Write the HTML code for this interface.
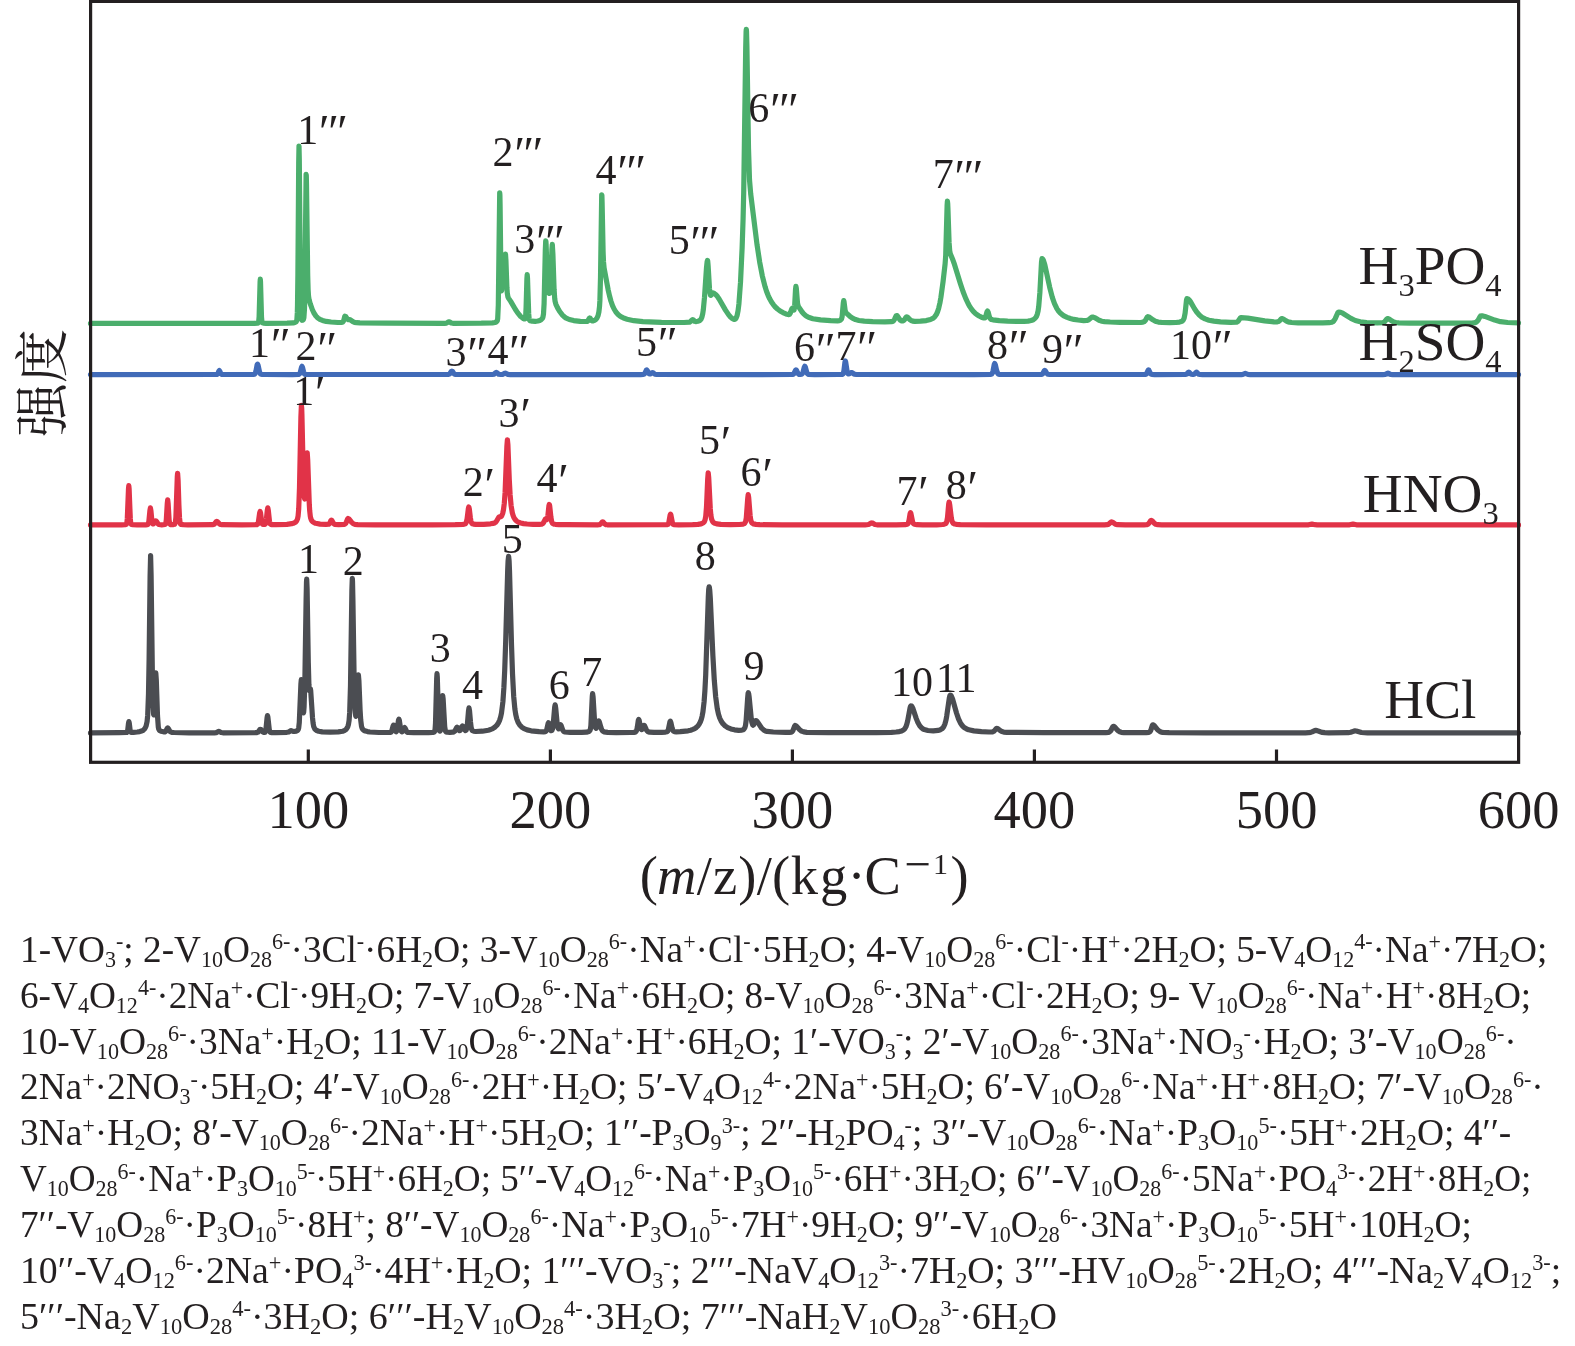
<!DOCTYPE html>
<html><head><meta charset="utf-8"><title>chart</title>
<style>
html,body{margin:0;padding:0;background:#fff;}
body{width:1575px;height:1346px;position:relative;overflow:hidden;}
svg{will-change:transform;}
</style></head><body>
<svg width="1575" height="1346" viewBox="0 0 1575 1346" style="position:absolute;left:0;top:0">
<g fill="none" stroke-width="5.2" stroke-linejoin="round" stroke-linecap="round">
<path d="M90.5 323.4L242.1 323.4L254.3 323.3L257.7 323.1L258.3 322.8L258.7 321.6L259.1 317.1L260.1 281.6L260.3 279.1L260.5 281.6L261.5 317.1L261.9 321.6L262.3 322.8L263.3 323.1L266.1 323.3L287.1 323.2L293.3 322.9L294.9 322.5L295.9 322.0L296.5 321.3L296.9 319.5L297.3 312.9L297.5 305.2L297.9 274.0L298.7 163.1L299.0 146.1L299.3 159.6L300.5 294.6L301.1 315.9L301.5 319.3L301.7 319.9L302.1 320.3L302.7 320.2L303.3 319.6L303.9 317.7L304.5 308.5L304.9 288.2L306.1 174.4L306.3 175.5L306.5 184.6L307.7 275.4L308.1 289.3L308.5 295.8L309.1 299.8L310.3 303.9L312.3 309.5L314.1 313.3L315.9 316.0L317.7 317.8L319.9 319.3L322.5 320.4L326.3 321.4L331.1 322.0L337.9 322.5L341.9 322.4L342.7 322.1L343.3 321.4L343.9 319.8L344.7 316.7L345.0 316.2L345.7 316.6L347.3 318.9L348.1 319.6L348.7 319.7L350.0 319.6L352.9 321.7L354.5 322.4L356.5 322.7L359.9 322.9L386.3 323.2L444.5 323.3L446.5 323.1L448.3 322.0L449.0 321.8L449.7 322.0L451.3 323.0L452.9 323.3L481.3 323.2L492.5 322.9L494.9 322.5L496.5 321.8L497.3 320.7L497.7 318.7L498.3 305.3L499.7 192.8L499.9 194.9L500.1 206.0L500.9 273.6L501.1 283.2L501.5 290.8L501.7 290.3L501.9 288.0L502.9 271.6L503.0 271.3L503.1 271.5L503.7 278.0L503.9 279.6L504.1 279.7L504.5 274.1L505.1 258.5L505.5 254.2L505.9 259.9L506.9 287.5L507.3 293.2L507.9 296.8L508.5 298.1L510.7 301.4L515.3 309.3L517.7 312.9L520.7 316.5L523.5 318.6L524.5 319.0L525.1 318.8L525.5 317.3L525.7 315.4L526.1 307.4L526.9 278.9L527.2 274.6L527.5 278.2L528.7 313.7L529.1 318.3L529.5 320.0L529.9 320.6L530.3 320.8L532.1 321.2L535.1 321.3L537.9 321.0L539.7 320.5L541.1 319.7L542.3 318.5L542.9 317.3L543.5 314.0L544.1 303.5L545.3 250.2L545.7 240.9L545.9 241.3L546.1 244.2L547.5 284.6L548.1 291.4L548.7 292.9L549.3 293.4L549.7 293.3L550.1 292.2L550.5 288.8L551.1 276.0L551.9 249.5L552.3 244.4L552.9 254.2L554.1 289.5L554.7 298.4L555.1 301.4L555.9 304.3L557.7 308.1L559.7 311.5L562.5 315.1L564.1 316.6L565.7 317.8L569.3 319.5L573.7 320.6L580.3 321.4L586.7 321.5L587.3 321.4L587.9 320.8L589.3 318.3L589.7 318.0L590.1 318.2L591.5 320.5L592.1 320.9L592.7 321.0L593.9 320.6L595.1 320.0L596.1 319.2L596.9 318.2L598.1 315.5L598.9 311.9L599.5 306.8L599.9 300.4L600.5 277.8L601.7 194.9L601.9 195.5L602.1 202.3L603.1 251.9L603.5 261.7L604.1 268.1L608.1 289.6L609.5 295.8L610.9 301.0L612.5 305.6L614.1 309.0L615.9 312.0L618.1 314.5L619.9 316.0L621.9 317.2L624.3 318.3L627.1 319.2L633.9 320.7L642.9 321.6L661.5 322.4L684.1 322.5L689.5 322.2L690.5 321.6L691.9 320.1L692.6 319.6L693.3 319.9L694.7 321.3L695.7 321.6L697.7 321.3L699.7 320.5L700.9 319.4L701.9 317.2L702.7 313.9L703.3 309.9L704.5 297.2L706.5 267.8L707.1 262.0L707.5 260.4L707.7 261.0L708.1 265.4L709.5 288.7L709.9 292.5L710.5 295.1L710.7 295.3L711.1 295.1L712.3 293.1L712.9 292.8L714.5 293.6L715.9 294.8L717.5 296.6L719.1 299.0L725.5 310.1L728.7 314.9L730.5 317.0L732.3 318.5L733.7 319.3L734.9 319.3L735.5 318.9L736.1 318.1L737.1 315.5L738.1 310.5L738.9 304.0L740.5 282.4L742.1 248.3L743.1 218.5L743.7 192.7L745.7 48.0L746.1 31.6L746.3 29.3L746.5 31.2L746.9 45.7L748.5 148.3L749.5 179.8L750.7 193.9L757.1 245.2L759.7 262.2L762.3 275.8L765.1 286.8L766.5 291.2L768.1 295.3L769.7 298.8L771.5 302.0L773.3 304.6L775.3 307.0L777.5 309.0L780.1 311.0L782.9 312.6L785.9 313.9L788.3 314.6L788.9 314.6L789.5 314.4L790.3 313.1L791.7 309.0L792.3 308.2L792.7 308.4L793.7 310.2L793.9 310.2L794.1 310.0L794.7 305.2L795.5 289.9L795.9 286.3L796.3 288.3L797.5 302.9L797.9 305.0L798.5 306.6L802.1 312.0L803.5 313.7L805.1 315.2L806.7 316.3L808.5 317.3L812.9 318.7L820.5 319.9L830.7 320.7L837.5 320.8L839.3 320.6L840.5 320.1L841.5 319.0L842.1 316.8L843.3 302.9L843.7 300.6L844.0 301.5L845.1 310.0L845.5 311.7L846.1 312.9L849.9 316.3L852.5 318.2L855.5 319.6L858.9 320.5L864.3 321.2L872.7 321.7L884.9 321.9L891.3 321.7L892.7 321.4L893.7 320.6L894.5 319.4L896.1 315.9L896.6 315.5L897.1 315.7L897.5 316.2L900.1 320.0L901.1 320.7L902.1 321.0L903.1 320.9L903.9 320.4L904.7 319.4L905.9 317.4L906.6 316.8L907.7 317.4L909.9 319.6L911.1 320.5L912.7 321.1L914.7 321.4L920.5 321.2L926.3 320.6L930.5 319.5L933.3 318.1L934.9 316.6L936.3 314.6L937.5 311.9L938.7 308.2L939.9 303.0L940.9 297.4L943.1 281.3L945.1 263.9L945.7 255.6L947.1 205.7L947.4 201.1L947.7 203.5L947.9 207.9L949.1 242.9L949.7 250.7L950.3 253.7L952.5 258.9L954.1 263.3L960.5 283.9L963.1 291.7L965.7 298.4L968.1 303.5L969.7 306.4L971.5 309.1L973.3 311.4L975.1 313.2L977.1 314.8L979.1 316.0L981.5 317.2L983.9 318.0L984.9 317.9L985.5 317.3L987.1 311.5L987.5 311.0L988.1 312.0L989.3 316.4L990.1 318.4L991.1 319.4L992.9 319.8L999.3 320.6L1007.7 321.1L1016.7 321.4L1023.9 321.4L1028.1 321.1L1031.1 320.5L1033.3 319.7L1035.1 318.3L1036.3 316.7L1037.3 314.2L1038.1 310.8L1038.7 306.7L1039.9 292.2L1041.5 262.1L1042.0 258.6L1042.7 259.0L1043.3 260.0L1044.7 264.2L1049.7 287.3L1052.3 297.3L1054.5 303.6L1056.9 308.6L1058.5 311.0L1060.3 313.1L1062.3 314.8L1064.5 316.2L1067.1 317.4L1070.3 318.5L1073.9 319.4L1078.1 320.0L1083.7 320.6L1086.9 320.5L1088.7 319.8L1091.7 317.3L1092.7 317.0L1094.5 317.6L1097.9 319.6L1099.9 320.6L1101.9 321.2L1104.5 321.6L1110.1 322.0L1120.1 322.3L1140.7 322.5L1142.9 322.2L1144.3 321.6L1145.5 320.2L1147.1 317.3L1147.8 316.7L1149.5 317.3L1152.9 319.8L1154.7 320.9L1156.3 321.6L1158.3 322.1L1162.3 322.5L1169.7 322.6L1175.9 322.5L1179.5 322.1L1181.3 321.6L1182.5 320.9L1183.5 319.6L1184.1 318.2L1185.1 313.2L1186.5 300.1L1186.9 298.6L1188.1 299.0L1189.3 300.1L1190.7 302.1L1194.5 308.7L1196.7 312.0L1199.3 315.0L1201.9 317.2L1205.1 318.9L1208.9 320.2L1213.9 321.1L1220.5 321.8L1230.7 322.3L1236.3 322.2L1237.3 321.9L1238.1 321.2L1240.3 318.0L1241.0 317.6L1247.7 318.1L1264.7 320.9L1273.9 321.9L1276.7 322.0L1278.3 321.6L1279.5 320.8L1281.1 318.9L1281.8 318.5L1283.1 318.9L1286.1 320.9L1287.7 321.7L1289.5 322.2L1291.7 322.5L1298.1 322.8L1310.5 322.9L1322.7 322.9L1329.1 322.7L1331.9 322.2L1332.9 321.7L1333.7 321.0L1335.1 318.9L1337.7 313.0L1338.3 312.3L1338.7 312.1L1340.7 312.4L1342.7 313.2L1350.9 318.4L1355.3 320.5L1360.3 321.8L1366.7 322.5L1377.1 322.8L1382.9 322.6L1383.9 322.3L1384.7 321.7L1386.9 318.9L1387.6 318.5L1388.9 318.9L1392.1 321.1L1393.9 322.0L1395.9 322.5L1398.9 322.8L1409.9 323.1L1435.1 323.2L1462.1 323.2L1472.1 323.0L1475.1 322.6L1476.7 321.8L1478.1 320.2L1480.1 316.5L1480.5 316.0L1481.0 315.8L1482.9 315.9L1484.9 316.4L1494.7 320.1L1500.5 321.7L1507.7 322.5L1518.5 322.9" stroke="#4bae6c"/>
<path d="M90.5 374.6L215.7 374.5L216.9 374.4L217.5 374.1L218.1 373.1L218.9 371.0L219.3 370.6L219.7 371.0L220.9 373.8L221.5 374.3L222.1 374.5L253.1 374.5L254.5 374.2L255.3 373.3L255.9 371.4L257.1 364.9L257.5 364.1L258.1 365.4L259.5 371.9L260.3 373.7L260.9 374.2L261.5 374.3L265.1 374.5L292.3 374.6L298.7 374.4L299.5 374.0L300.1 373.0L301.5 367.3L302.0 366.3L302.5 367.3L303.5 371.7L304.3 373.7L304.7 374.1L305.3 374.4L308.5 374.5L446.9 374.5L448.5 374.4L449.3 374.1L450.1 373.3L451.3 371.5L451.9 371.1L452.5 371.5L453.7 373.3L454.5 374.1L455.5 374.4L457.3 374.5L492.3 374.5L493.9 374.2L495.7 372.6L496.3 372.4L496.9 372.6L498.7 374.2L500.7 374.5L502.9 374.3L504.7 373.3L505.3 373.1L507.9 374.4L510.3 374.6L640.5 374.6L643.3 374.4L644.3 374.0L645.1 372.9L646.3 370.2L646.7 369.9L647.3 370.6L648.5 373.2L649.3 374.0L650.3 374.0L651.9 372.8L652.5 372.6L653.1 372.8L654.9 374.2L656.7 374.5L752.5 374.6L792.3 374.5L793.3 374.2L793.9 373.7L795.5 370.4L796.0 369.9L796.5 370.3L797.7 373.0L798.3 373.9L799.1 374.3L800.3 374.4L801.7 374.2L802.5 373.4L803.1 371.9L804.3 367.2L804.8 366.3L805.3 367.0L806.5 371.5L807.1 373.1L807.7 373.9L808.5 374.3L814.7 374.6L838.7 374.5L842.3 374.3L842.9 374.0L843.3 373.4L843.9 370.9L844.9 362.5L845.3 361.0L845.7 362.1L847.1 371.4L847.9 373.6L848.5 374.0L849.1 374.0L850.9 372.7L851.5 372.5L852.1 372.7L854.1 374.2L856.5 374.5L974.1 374.6L990.3 374.4L991.7 374.0L992.5 372.8L993.1 370.6L994.3 364.3L994.7 363.6L995.3 364.7L996.7 370.8L997.7 373.3L998.3 374.0L999.1 374.3L1002.7 374.5L1041.3 374.5L1042.1 374.3L1042.7 373.8L1044.3 370.8L1044.8 370.4L1045.3 370.7L1046.7 373.2L1047.3 373.9L1048.1 374.3L1049.5 374.5L1144.3 374.5L1145.7 374.4L1146.5 373.8L1148.1 370.3L1148.5 369.9L1148.9 370.2L1150.1 372.9L1150.9 374.0L1151.9 374.4L1154.7 374.6L1185.3 374.5L1186.7 374.1L1188.3 372.4L1188.8 372.2L1189.3 372.4L1190.5 373.8L1191.1 374.2L1193.1 374.5L1194.5 374.1L1195.9 372.5L1196.5 372.2L1196.9 372.4L1198.1 373.7L1198.9 374.3L1199.9 374.5L1202.5 374.6L1241.3 374.6L1242.9 374.4L1245.3 373.4L1247.9 374.4L1250.3 374.6L1382.7 374.6L1385.3 374.4L1388.0 373.1L1390.5 374.3L1392.9 374.6L1518.5 374.6" stroke="#416bb8"/>
<path d="M90.5 524.9L121.7 524.8L125.1 524.7L126.3 524.3L126.9 522.6L127.3 518.7L128.5 488.7L128.8 485.7L129.1 488.7L130.3 518.7L130.7 522.6L131.3 524.3L131.7 524.5L132.7 524.7L137.1 524.8L145.9 524.8L147.3 524.7L147.9 524.4L148.5 523.2L148.9 521.1L149.9 510.7L150.4 507.9L150.9 510.6L151.9 521.0L152.3 523.1L152.7 523.9L153.1 524.0L153.7 523.6L155.3 521.1L155.8 520.8L156.5 521.4L157.9 523.7L158.9 524.5L161.7 524.8L165.1 524.5L165.5 524.1L165.9 522.9L166.3 519.9L167.3 503.2L167.7 499.9L168.1 503.2L169.1 519.9L169.7 523.6L170.1 524.3L170.7 524.6L172.9 524.6L174.5 524.3L174.9 523.9L175.3 522.8L175.9 517.3L177.3 476.5L177.6 473.3L178.1 480.4L178.9 505.1L179.5 517.7L180.1 522.7L180.5 523.9L181.1 524.4L183.3 524.7L187.9 524.8L212.5 524.7L213.5 524.5L214.3 524.1L216.1 521.7L216.6 521.4L217.3 521.7L219.7 524.1L220.7 524.5L221.9 524.7L241.9 524.8L256.7 524.7L257.3 524.5L257.7 524.1L258.3 522.6L259.7 512.7L260.1 511.5L260.5 512.7L261.5 520.4L262.1 523.2L262.5 524.1L262.9 524.4L264.5 524.5L265.3 524.0L265.9 522.4L266.5 518.3L267.3 510.2L267.8 507.9L268.3 510.2L269.5 521.4L270.1 523.7L270.7 524.4L271.9 524.6L275.9 524.7L286.9 524.3L291.7 523.7L293.3 523.3L294.7 522.7L295.7 522.0L296.5 521.1L297.5 519.0L298.1 515.9L298.7 509.1L299.5 487.5L300.9 417.2L301.4 405.3L301.7 408.2L301.9 413.9L303.3 476.6L303.7 488.0L304.3 497.3L304.7 499.0L304.9 498.6L305.3 495.1L306.7 458.9L306.9 454.8L307.2 452.8L307.7 459.9L309.3 504.5L309.7 510.8L310.3 516.3L310.7 518.2L311.3 519.9L311.9 520.9L312.9 521.9L314.1 522.7L315.5 523.3L320.1 524.1L325.9 524.4L328.7 524.2L329.7 523.3L330.9 520.6L331.4 520.1L331.9 520.5L333.5 523.4L334.7 524.3L338.7 524.6L344.1 524.4L345.1 524.0L345.7 523.4L346.3 522.3L347.5 519.2L348.1 518.5L349.1 519.0L351.7 522.4L353.1 523.6L354.9 524.3L357.7 524.6L375.3 524.8L432.3 524.8L455.3 524.7L462.9 524.4L464.3 524.2L465.3 523.8L465.9 523.2L466.3 522.4L467.1 518.9L468.3 509.0L468.8 507.0L469.3 508.9L470.3 517.4L470.9 521.0L471.5 522.8L472.3 523.7L473.5 524.1L475.7 524.4L483.7 524.3L490.5 523.8L492.9 523.4L494.5 522.9L495.5 522.3L496.3 521.5L498.9 517.2L499.5 516.9L500.9 516.7L501.7 515.9L502.7 513.4L503.5 509.6L504.3 503.2L505.1 492.4L506.9 445.9L507.4 439.8L507.9 444.8L509.3 480.1L510.1 494.7L511.1 505.6L512.3 512.7L513.1 515.5L514.1 517.9L515.3 519.7L516.7 521.1L518.5 522.2L520.7 523.0L523.5 523.6L527.1 524.0L533.1 524.3L539.1 524.3L541.7 524.1L542.9 523.5L543.7 522.4L545.3 519.1L545.7 518.9L546.7 519.7L547.1 519.4L547.3 518.9L547.9 515.6L548.9 506.0L549.3 504.4L549.7 505.9L550.9 517.2L551.7 521.7L552.3 523.1L552.9 523.7L553.9 524.1L555.3 524.3L559.1 524.6L566.5 524.7L598.3 524.8L599.5 524.6L600.3 524.2L602.1 522.2L602.7 521.9L603.3 522.2L605.1 524.2L605.9 524.6L607.3 524.8L667.1 524.7L668.1 524.3L668.7 523.1L670.1 515.2L670.5 514.2L670.9 515.0L672.5 523.2L673.1 524.3L673.7 524.7L678.7 524.8L692.7 524.7L697.9 524.4L701.1 523.9L703.1 523.0L704.3 521.7L705.1 519.8L705.7 516.6L706.5 507.0L707.7 478.9L708.2 472.8L708.7 477.5L710.3 509.0L710.9 515.3L711.5 518.8L712.5 521.4L713.3 522.4L714.1 523.0L716.7 523.9L720.9 524.4L730.3 524.7L739.5 524.5L743.1 524.1L744.1 523.7L744.9 523.0L745.7 521.3L746.3 517.9L747.7 498.6L748.2 494.7L748.7 497.7L750.1 515.3L750.7 519.6L751.3 521.8L752.1 523.1L753.5 523.9L755.9 524.4L759.7 524.7L782.3 524.9L865.1 524.8L868.5 524.5L871.1 523.1L871.8 522.9L872.5 523.1L874.9 524.5L876.9 524.8L896.3 524.9L905.1 524.7L907.3 524.2L907.9 523.7L908.3 523.1L909.1 520.0L910.1 513.7L910.5 512.7L910.9 513.5L912.7 522.2L913.3 523.5L914.3 524.3L916.9 524.7L922.7 524.8L936.7 524.8L942.7 524.5L944.3 524.2L945.5 523.7L946.1 523.2L946.7 521.9L947.5 517.5L948.7 504.1L949.1 502.1L949.3 502.4L949.7 504.6L951.3 517.9L951.9 520.7L952.5 522.3L953.3 523.4L954.7 524.0L956.9 524.4L960.3 524.7L986.7 524.9L1104.5 524.8L1106.9 524.7L1108.1 524.4L1109.1 523.8L1110.9 522.2L1111.6 521.9L1112.5 522.2L1115.3 524.2L1117.5 524.7L1125.3 524.9L1144.1 524.8L1146.7 524.7L1147.9 524.3L1148.9 523.4L1150.5 520.9L1151.2 520.4L1152.1 520.8L1154.3 523.3L1155.7 524.2L1157.7 524.7L1161.9 524.8L1304.9 524.9L1308.5 524.8L1312.0 524.1L1315.1 524.7L1317.1 524.9L1345.3 524.9L1349.5 524.8L1353.0 524.1L1356.5 524.8L1360.1 524.9L1518.5 524.9" stroke="#e13348"/>
<path d="M90.5 732.9L119.1 732.7L126.7 732.5L127.3 731.8L127.7 730.2L128.5 723.4L128.9 721.6L129.3 723.4L130.1 730.1L130.5 731.7L131.1 732.3L133.5 732.3L137.3 732.0L139.7 731.6L141.7 731.0L143.1 730.3L144.3 729.2L145.3 727.8L146.1 726.0L147.1 721.5L147.7 715.2L148.5 693.8L149.1 659.6L150.1 575.7L150.6 555.6L151.1 575.6L152.5 684.0L152.9 700.6L153.5 713.1L153.7 714.6L153.9 714.8L154.3 710.8L155.3 680.7L155.5 675.7L155.8 672.9L156.3 680.1L157.5 715.8L158.3 727.0L158.7 729.0L159.5 730.4L161.1 731.3L163.5 731.8L164.9 731.8L165.7 731.4L167.3 728.3L167.7 727.9L168.3 728.5L169.7 731.1L170.5 731.9L171.7 732.3L174.1 732.5L189.1 732.8L214.5 732.8L216.3 732.6L218.8 731.3L221.1 732.5L222.9 732.8L255.3 732.7L256.9 732.6L257.9 732.2L258.7 731.3L259.9 729.6L260.4 729.3L260.9 729.5L262.7 731.9L263.5 732.4L264.5 732.4L264.9 732.3L265.3 731.9L265.9 729.6L267.1 717.5L267.5 715.6L267.9 717.2L269.3 729.8L269.9 731.8L270.5 732.4L271.7 732.6L275.7 732.6L286.9 732.3L288.7 732.0L291.1 730.6L293.1 731.4L294.1 731.5L296.1 731.1L297.7 730.3L298.3 729.4L298.7 727.9L299.3 722.4L300.9 684.1L301.3 679.7L301.7 682.7L303.1 711.1L303.3 712.5L303.5 712.8L303.7 711.9L304.1 706.5L304.9 678.8L306.1 600.4L306.5 581.9L306.7 579.2L307.1 588.7L308.3 662.7L308.9 684.5L309.3 690.0L309.5 690.7L309.7 690.4L310.3 688.6L310.7 690.6L312.5 717.7L313.1 723.3L313.7 726.5L314.7 728.8L316.1 730.2L318.7 731.2L322.3 731.9L330.1 732.2L338.3 731.9L342.7 731.2L344.3 730.6L345.5 729.8L346.5 728.8L347.3 727.6L347.9 726.3L348.5 724.2L349.1 720.4L349.7 712.2L350.5 685.6L351.9 590.0L352.3 578.4L352.5 581.0L352.9 599.3L354.1 677.8L354.5 694.9L355.1 709.9L355.7 715.8L355.9 716.3L356.1 716.0L356.5 713.1L357.1 702.4L357.9 681.1L358.4 674.9L358.9 680.7L360.1 710.0L360.7 719.9L361.5 726.3L362.1 728.3L362.9 729.5L364.1 730.5L365.5 731.1L367.5 731.6L369.9 732.0L378.9 732.5L390.3 732.5L391.1 732.1L391.7 731.2L393.1 726.0L393.6 725.1L394.1 725.9L395.3 730.6L395.7 731.4L396.1 731.7L396.7 731.0L397.1 729.6L398.5 720.1L398.9 719.1L399.3 720.1L400.7 729.5L401.1 731.0L401.7 731.8L402.1 731.8L402.7 731.3L404.1 728.1L404.6 727.6L405.1 728.2L406.7 731.7L407.3 732.2L408.1 732.5L413.7 732.6L428.5 732.6L432.7 732.4L434.3 731.9L434.7 731.2L435.1 729.1L435.5 723.3L436.7 678.1L437.0 673.6L437.3 677.3L438.7 723.7L439.1 728.8L439.7 731.1L440.1 731.2L440.5 730.4L441.1 725.6L442.3 699.7L442.7 695.7L443.1 698.5L444.7 726.7L445.3 730.5L445.7 731.5L446.1 731.9L447.3 732.2L449.9 732.3L452.7 732.2L453.9 731.9L454.9 731.0L456.5 727.8L457.1 727.2L457.7 727.7L459.1 730.3L459.5 730.6L459.9 730.6L460.5 730.0L461.9 726.6L462.5 725.9L463.1 726.5L464.7 730.0L465.5 730.6L466.1 730.2L466.7 728.8L467.3 725.2L468.5 711.0L469.0 707.9L469.5 710.6L470.5 722.1L471.1 727.0L471.7 729.5L472.5 730.7L473.7 731.2L475.7 731.5L482.3 731.2L488.3 730.2L490.7 729.5L492.7 728.6L495.1 727.0L496.9 725.2L498.5 722.8L499.7 720.1L500.7 716.8L501.5 713.0L502.9 701.7L503.9 687.4L504.7 670.5L505.7 641.2L507.7 569.7L508.1 560.7L508.6 556.3L509.1 560.9L509.5 570.6L511.5 644.6L512.5 673.7L513.7 696.4L514.9 709.2L515.7 714.3L516.7 718.6L518.1 722.3L519.7 724.9L521.7 727.1L524.1 728.7L527.1 729.9L531.1 730.8L539.1 731.7L543.7 731.8L545.5 731.6L546.1 731.2L546.7 729.9L548.1 723.5L548.5 722.8L548.9 723.4L550.5 730.0L551.1 730.7L551.5 730.7L551.9 730.3L552.5 729.0L553.1 725.8L554.7 706.9L555.1 704.9L555.3 705.3L555.7 708.1L557.3 724.9L557.7 727.1L558.3 728.7L558.5 728.8L558.9 728.5L560.1 725.3L560.6 724.7L561.1 725.4L562.9 730.5L563.7 731.5L564.7 732.0L570.3 732.4L581.7 732.4L586.5 732.2L588.9 731.5L589.7 730.8L590.1 730.1L590.5 728.5L590.9 725.3L592.3 696.2L592.6 693.5L593.1 697.2L594.5 720.1L594.9 724.2L595.5 727.5L595.9 728.2L596.1 728.3L596.5 727.9L597.1 726.2L598.1 722.0L598.5 721.0L598.7 720.9L599.1 721.3L599.5 722.4L600.9 727.4L601.7 729.6L602.7 731.1L603.9 731.8L607.7 732.3L616.3 732.6L630.7 732.5L633.7 732.4L635.3 732.1L636.1 731.5L636.7 730.2L637.3 727.3L638.3 720.5L638.7 719.5L639.1 720.1L640.5 727.2L641.3 729.5L641.7 729.7L642.1 729.3L643.5 725.8L643.9 725.3L644.1 725.3L644.7 726.0L646.3 729.6L647.1 730.9L648.1 731.8L649.5 732.2L653.9 732.4L661.7 732.3L665.5 732.1L667.1 731.7L667.7 731.1L668.3 729.8L669.9 722.0L670.3 721.2L670.9 722.5L672.1 728.0L672.7 729.9L673.3 731.0L674.3 731.6L676.3 731.8L680.3 731.7L688.1 730.8L690.7 730.2L692.9 729.4L694.7 728.6L696.3 727.5L697.9 725.9L699.1 724.3L700.3 722.1L701.3 719.4L702.1 716.3L702.9 712.1L704.1 701.7L704.9 690.7L705.7 675.1L708.3 597.2L708.7 589.5L709.1 586.8L709.3 587.1L709.7 589.8L710.3 598.2L712.9 655.8L714.3 680.3L715.7 697.0L717.3 708.8L718.5 714.3L719.7 718.0L721.1 721.0L722.9 723.7L725.1 725.9L727.7 727.6L730.9 728.9L734.5 729.8L738.7 730.3L741.9 730.1L743.1 729.7L743.9 729.2L744.9 727.6L745.5 725.3L746.1 720.9L747.7 697.4L748.1 693.3L748.3 692.7L748.7 693.8L749.1 696.6L751.3 719.0L751.9 722.5L752.7 724.8L753.1 725.2L753.7 724.8L755.3 721.2L755.7 720.6L756.0 720.6L756.7 721.0L757.5 721.9L761.7 728.2L763.9 730.2L765.3 730.9L767.1 731.4L773.3 732.0L785.7 732.3L789.5 732.3L791.3 732.1L792.1 731.7L792.9 730.7L794.5 726.3L795.1 725.5L795.7 725.7L796.5 726.2L799.7 729.7L801.5 731.1L803.7 731.9L806.9 732.3L828.5 732.7L876.3 732.6L891.5 732.3L896.1 732.0L899.3 731.6L901.7 730.9L903.5 730.0L904.9 728.6L905.9 726.8L906.9 723.9L907.7 720.7L910.1 707.8L910.5 706.5L911.0 705.8L911.5 706.0L911.9 706.4L912.7 707.9L916.3 718.6L917.9 722.6L919.7 725.8L921.5 727.8L922.9 728.9L924.3 729.6L927.9 730.5L933.3 730.9L938.1 730.4L940.5 729.7L942.3 728.5L943.7 726.8L944.9 724.0L945.9 720.4L946.7 716.2L949.3 698.2L949.9 695.7L950.3 695.2L950.7 695.3L951.3 696.0L952.5 698.8L956.5 713.0L958.5 718.8L960.3 722.7L962.3 725.7L963.7 727.1L965.1 728.1L966.7 729.0L968.7 729.8L973.9 730.9L981.5 731.6L988.9 732.0L992.5 731.8L994.1 731.1L996.1 728.8L996.9 728.3L997.9 728.7L1000.5 730.8L1001.9 731.6L1003.7 732.1L1006.9 732.3L1044.3 732.7L1105.7 732.7L1108.5 732.4L1109.9 731.7L1110.9 730.5L1112.7 726.9L1113.4 726.3L1114.1 726.5L1114.7 727.0L1117.3 730.0L1118.5 731.1L1119.7 731.8L1121.3 732.3L1123.9 732.6L1128.9 732.7L1146.1 732.7L1148.9 732.4L1150.1 731.6L1150.9 730.0L1152.3 725.5L1152.8 724.8L1153.5 725.0L1154.1 725.5L1157.7 729.9L1159.9 731.5L1161.3 732.1L1162.9 732.4L1169.1 732.7L1205.7 732.9L1305.5 732.8L1308.7 732.7L1310.7 732.4L1312.1 731.9L1314.7 730.6L1315.7 730.4L1317.1 730.6L1320.3 731.8L1322.3 732.4L1324.7 732.7L1328.7 732.8L1348.3 732.7L1350.7 732.3L1353.9 731.1L1355.0 730.9L1356.3 731.0L1361.5 732.5L1367.5 732.8L1518.5 732.9" stroke="#4b4d52"/>
</g>
<g stroke="#231f20" stroke-width="3.2" fill="none">
<rect x="90.6" y="1.4" width="1428" height="760.9" />
<line x1="308.3" y1="761.5" x2="308.3" y2="749.5"/><line x1="550.4" y1="761.5" x2="550.4" y2="749.5"/><line x1="792.4" y1="761.5" x2="792.4" y2="749.5"/><line x1="1034.4" y1="761.5" x2="1034.4" y2="749.5"/><line x1="1276.5" y1="761.5" x2="1276.5" y2="749.5"/>
</g>
<g fill="#231f20" font-family="'Liberation Serif', serif">
<text x="297.2" y="143.8" font-size="42">1</text><text x="319.1" y="148.1" font-size="48" letter-spacing="-1.41">′′′</text>
<text x="492.6" y="166.0" font-size="42">2</text><text x="514.5" y="170.3" font-size="48" letter-spacing="-1.41">′′′</text>
<text x="514.3" y="253.4" font-size="42">3</text><text x="536.2" y="257.7" font-size="48" letter-spacing="-1.41">′′′</text>
<text x="595.5" y="183.8" font-size="42">4</text><text x="617.4" y="188.1" font-size="48" letter-spacing="-1.41">′′′</text>
<text x="668.7" y="254.2" font-size="42">5</text><text x="690.6" y="258.5" font-size="48" letter-spacing="-1.41">′′′</text>
<text x="748.3" y="121.5" font-size="42">6</text><text x="770.2" y="125.8" font-size="48" letter-spacing="-1.41">′′′</text>
<text x="932.7" y="188.3" font-size="42">7</text><text x="954.6" y="192.6" font-size="48" letter-spacing="-1.41">′′′</text>
<text x="249.0" y="356.8" font-size="42">1</text><text x="270.9" y="361.1" font-size="48" letter-spacing="-1.41">′′</text>
<text x="295.6" y="360.4" font-size="42">2</text><text x="317.5" y="364.7" font-size="48" letter-spacing="-1.41">′′</text>
<text x="445.5" y="365.6" font-size="42">3</text><text x="467.4" y="369.9" font-size="48" letter-spacing="-1.41">′′</text>
<text x="487.4" y="363.5" font-size="42">4</text><text x="509.3" y="367.8" font-size="48" letter-spacing="-1.41">′′</text>
<text x="636.0" y="356.0" font-size="42">5</text><text x="657.9" y="360.3" font-size="48" letter-spacing="-1.41">′′</text>
<text x="794.1" y="361.3" font-size="42">6</text><text x="816.0" y="365.6" font-size="48" letter-spacing="-1.41">′′</text>
<text x="835.4" y="360.0" font-size="42">7</text><text x="857.3" y="364.3" font-size="48" letter-spacing="-1.41">′′</text>
<text x="987.0" y="358.7" font-size="42">8</text><text x="1008.9" y="363.0" font-size="48" letter-spacing="-1.41">′′</text>
<text x="1041.9" y="362.5" font-size="42">9</text><text x="1063.8" y="366.8" font-size="48" letter-spacing="-1.41">′′</text>
<text x="1170.0" y="358.7" font-size="42">10</text><text x="1212.9" y="363.0" font-size="48" letter-spacing="-1.41">′′</text>
<text x="293.2" y="404.5" font-size="42">1</text><text x="315.1" y="408.8" font-size="48" letter-spacing="-1.41">′</text>
<text x="462.7" y="496.4" font-size="42">2</text><text x="484.6" y="500.7" font-size="48" letter-spacing="-1.41">′</text>
<text x="498.6" y="426.6" font-size="42">3</text><text x="520.5" y="430.9" font-size="48" letter-spacing="-1.41">′</text>
<text x="536.4" y="492.4" font-size="42">4</text><text x="558.3" y="496.7" font-size="48" letter-spacing="-1.41">′</text>
<text x="698.9" y="454.2" font-size="42">5</text><text x="720.8" y="458.5" font-size="48" letter-spacing="-1.41">′</text>
<text x="740.5" y="486.2" font-size="42">6</text><text x="762.4" y="490.5" font-size="48" letter-spacing="-1.41">′</text>
<text x="896.4" y="504.6" font-size="42">7</text><text x="918.3" y="508.9" font-size="48" letter-spacing="-1.41">′</text>
<text x="945.7" y="499.3" font-size="42">8</text><text x="967.6" y="503.6" font-size="48" letter-spacing="-1.41">′</text>
<text x="297.9" y="572.8" font-size="42">1</text>
<text x="342.8" y="575.0" font-size="42">2</text>
<text x="429.7" y="661.9" font-size="42">3</text>
<text x="462.0" y="699.2" font-size="42">4</text>
<text x="501.8" y="552.6" font-size="42">5</text>
<text x="548.8" y="699.2" font-size="42">6</text>
<text x="581.2" y="685.5" font-size="42">7</text>
<text x="694.7" y="569.7" font-size="42">8</text>
<text x="743.4" y="680.2" font-size="42">9</text>
<text x="891.0" y="695.6" font-size="42">10</text>
<text x="936.0" y="691.8" font-size="42">11</text>
<text x="308.3" y="828.3" font-size="54.5" text-anchor="middle">100</text><text x="550.4" y="828.3" font-size="54.5" text-anchor="middle">200</text><text x="792.4" y="828.3" font-size="54.5" text-anchor="middle">300</text><text x="1034.4" y="828.3" font-size="54.5" text-anchor="middle">400</text><text x="1276.5" y="828.3" font-size="54.5" text-anchor="middle">500</text><text x="1518.5" y="828.3" font-size="54.5" text-anchor="middle">600</text>
<text x="1358.6" y="284.1" font-size="55.2">H</text><text x="1398.5" y="296.1" font-size="32.5">3</text><text x="1414.7" y="284.1" font-size="55.2">PO</text><text x="1485.3" y="296.1" font-size="32.5">4</text><text x="1358.6" y="360.1" font-size="55.2">H</text><text x="1398.5" y="372.1" font-size="32.5">2</text><text x="1414.7" y="360.1" font-size="55.2">SO</text><text x="1485.3" y="372.1" font-size="32.5">4</text><text x="1362.8" y="512.0" font-size="55.2">HNO</text><text x="1482.4" y="524.0" font-size="32.5">3</text><text x="1384.3" y="717.9" font-size="55.2">HCl</text>
<text x="639.8" y="893.5" font-size="54.5">(</text><text x="656.9" y="893.5" font-size="54.5" font-style="italic">m</text><text x="696.7" y="893.5" font-size="54.5">/</text><text x="712.9" y="893.5" font-size="54.5">z</text><text x="738.2" y="893.5" font-size="54.5">)</text><text x="756.7" y="893.5" font-size="54.5">/</text><text x="772.0" y="893.5" font-size="54.5">(</text><text x="790.8" y="893.5" font-size="54.5">k</text><text x="819.9" y="893.5" font-size="54.5">g</text><text x="847.4" y="893.5" font-size="54.5">·</text><text x="864.5" y="893.5" font-size="54.5">C</text><text x="904.4" y="880.0" font-size="47">−</text><text x="933.0" y="874.4" font-size="30">1</text><text x="950.4" y="893.5" font-size="54.5">)</text>
<text x="0" y="0" font-size="54" font-family="'Noto Serif CJK SC', serif" text-anchor="middle" transform="translate(62.3 383) rotate(-90)">强度</text>
<text x="20.0" y="961.8" font-size="38" transform="matrix(0.98158 0 0 1 0.368 0)"><tspan y="961.8">1-VO</tspan><tspan y="966.8" font-size="22.5">3</tspan><tspan y="949.2" font-size="22.5">-</tspan><tspan y="961.8">; 2-V</tspan><tspan y="966.8" font-size="22.5">10</tspan><tspan y="961.8">O</tspan><tspan y="966.8" font-size="22.5">28</tspan><tspan y="949.2" font-size="22.5">6-</tspan><tspan y="961.8">·3Cl</tspan><tspan y="949.2" font-size="22.5">-</tspan><tspan y="961.8">·6H</tspan><tspan y="966.8" font-size="22.5">2</tspan><tspan y="961.8">O; 3-V</tspan><tspan y="966.8" font-size="22.5">10</tspan><tspan y="961.8">O</tspan><tspan y="966.8" font-size="22.5">28</tspan><tspan y="949.2" font-size="22.5">6-</tspan><tspan y="961.8">·Na</tspan><tspan y="949.2" font-size="22.5">+</tspan><tspan y="961.8">·Cl</tspan><tspan y="949.2" font-size="22.5">-</tspan><tspan y="961.8">·5H</tspan><tspan y="966.8" font-size="22.5">2</tspan><tspan y="961.8">O; 4-V</tspan><tspan y="966.8" font-size="22.5">10</tspan><tspan y="961.8">O</tspan><tspan y="966.8" font-size="22.5">28</tspan><tspan y="949.2" font-size="22.5">6-</tspan><tspan y="961.8">·Cl</tspan><tspan y="949.2" font-size="22.5">-</tspan><tspan y="961.8">·H</tspan><tspan y="949.2" font-size="22.5">+</tspan><tspan y="961.8">·2H</tspan><tspan y="966.8" font-size="22.5">2</tspan><tspan y="961.8">O; 5-V</tspan><tspan y="966.8" font-size="22.5">4</tspan><tspan y="961.8">O</tspan><tspan y="966.8" font-size="22.5">12</tspan><tspan y="949.2" font-size="22.5">4-</tspan><tspan y="961.8">·Na</tspan><tspan y="949.2" font-size="22.5">+</tspan><tspan y="961.8">·7H</tspan><tspan y="966.8" font-size="22.5">2</tspan><tspan y="961.8">O;</tspan></text>
<text x="20.0" y="1007.7" font-size="38" transform="matrix(0.98027 0 0 1 0.395 0)"><tspan y="1007.7">6-V</tspan><tspan y="1012.7" font-size="22.5">4</tspan><tspan y="1007.7">O</tspan><tspan y="1012.7" font-size="22.5">12</tspan><tspan y="995.1" font-size="22.5">4-</tspan><tspan y="1007.7">·2Na</tspan><tspan y="995.1" font-size="22.5">+</tspan><tspan y="1007.7">·Cl</tspan><tspan y="995.1" font-size="22.5">-</tspan><tspan y="1007.7">·9H</tspan><tspan y="1012.7" font-size="22.5">2</tspan><tspan y="1007.7">O; 7-V</tspan><tspan y="1012.7" font-size="22.5">10</tspan><tspan y="1007.7">O</tspan><tspan y="1012.7" font-size="22.5">28</tspan><tspan y="995.1" font-size="22.5">6-</tspan><tspan y="1007.7">·Na</tspan><tspan y="995.1" font-size="22.5">+</tspan><tspan y="1007.7">·6H</tspan><tspan y="1012.7" font-size="22.5">2</tspan><tspan y="1007.7">O; 8-V</tspan><tspan y="1012.7" font-size="22.5">10</tspan><tspan y="1007.7">O</tspan><tspan y="1012.7" font-size="22.5">28</tspan><tspan y="995.1" font-size="22.5">6-</tspan><tspan y="1007.7">·3Na</tspan><tspan y="995.1" font-size="22.5">+</tspan><tspan y="1007.7">·Cl</tspan><tspan y="995.1" font-size="22.5">-</tspan><tspan y="1007.7">·2H</tspan><tspan y="1012.7" font-size="22.5">2</tspan><tspan y="1007.7">O; 9- V</tspan><tspan y="1012.7" font-size="22.5">10</tspan><tspan y="1007.7">O</tspan><tspan y="1012.7" font-size="22.5">28</tspan><tspan y="995.1" font-size="22.5">6-</tspan><tspan y="1007.7">·Na</tspan><tspan y="995.1" font-size="22.5">+</tspan><tspan y="1007.7">·H</tspan><tspan y="995.1" font-size="22.5">+</tspan><tspan y="1007.7">·8H</tspan><tspan y="1012.7" font-size="22.5">2</tspan><tspan y="1007.7">O;</tspan></text>
<text x="20.0" y="1053.6" font-size="38" transform="matrix(0.98411 0 0 1 0.318 0)"><tspan y="1053.6">10-V</tspan><tspan y="1058.6" font-size="22.5">10</tspan><tspan y="1053.6">O</tspan><tspan y="1058.6" font-size="22.5">28</tspan><tspan y="1041.0" font-size="22.5">6-</tspan><tspan y="1053.6">·3Na</tspan><tspan y="1041.0" font-size="22.5">+</tspan><tspan y="1053.6">·H</tspan><tspan y="1058.6" font-size="22.5">2</tspan><tspan y="1053.6">O; 11-V</tspan><tspan y="1058.6" font-size="22.5">10</tspan><tspan y="1053.6">O</tspan><tspan y="1058.6" font-size="22.5">28</tspan><tspan y="1041.0" font-size="22.5">6-</tspan><tspan y="1053.6">·2Na</tspan><tspan y="1041.0" font-size="22.5">+</tspan><tspan y="1053.6">·H</tspan><tspan y="1041.0" font-size="22.5">+</tspan><tspan y="1053.6">·6H</tspan><tspan y="1058.6" font-size="22.5">2</tspan><tspan y="1053.6">O; 1′-VO</tspan><tspan y="1058.6" font-size="22.5">3</tspan><tspan y="1041.0" font-size="22.5">-</tspan><tspan y="1053.6">; 2′-V</tspan><tspan y="1058.6" font-size="22.5">10</tspan><tspan y="1053.6">O</tspan><tspan y="1058.6" font-size="22.5">28</tspan><tspan y="1041.0" font-size="22.5">6-</tspan><tspan y="1053.6">·3Na</tspan><tspan y="1041.0" font-size="22.5">+</tspan><tspan y="1053.6">·NO</tspan><tspan y="1058.6" font-size="22.5">3</tspan><tspan y="1041.0" font-size="22.5">-</tspan><tspan y="1053.6">·H</tspan><tspan y="1058.6" font-size="22.5">2</tspan><tspan y="1053.6">O; 3′-V</tspan><tspan y="1058.6" font-size="22.5">10</tspan><tspan y="1053.6">O</tspan><tspan y="1058.6" font-size="22.5">28</tspan><tspan y="1041.0" font-size="22.5">6-</tspan><tspan y="1053.6">·</tspan></text>
<text x="20.0" y="1099.5" font-size="38" transform="matrix(0.98201 0 0 1 0.360 0)"><tspan y="1099.5">2Na</tspan><tspan y="1086.9" font-size="22.5">+</tspan><tspan y="1099.5">·2NO</tspan><tspan y="1104.5" font-size="22.5">3</tspan><tspan y="1086.9" font-size="22.5">-</tspan><tspan y="1099.5">·5H</tspan><tspan y="1104.5" font-size="22.5">2</tspan><tspan y="1099.5">O; 4′-V</tspan><tspan y="1104.5" font-size="22.5">10</tspan><tspan y="1099.5">O</tspan><tspan y="1104.5" font-size="22.5">28</tspan><tspan y="1086.9" font-size="22.5">6-</tspan><tspan y="1099.5">·2H</tspan><tspan y="1086.9" font-size="22.5">+</tspan><tspan y="1099.5">·H</tspan><tspan y="1104.5" font-size="22.5">2</tspan><tspan y="1099.5">O; 5′-V</tspan><tspan y="1104.5" font-size="22.5">4</tspan><tspan y="1099.5">O</tspan><tspan y="1104.5" font-size="22.5">12</tspan><tspan y="1086.9" font-size="22.5">4-</tspan><tspan y="1099.5">·2Na</tspan><tspan y="1086.9" font-size="22.5">+</tspan><tspan y="1099.5">·5H</tspan><tspan y="1104.5" font-size="22.5">2</tspan><tspan y="1099.5">O; 6′-V</tspan><tspan y="1104.5" font-size="22.5">10</tspan><tspan y="1099.5">O</tspan><tspan y="1104.5" font-size="22.5">28</tspan><tspan y="1086.9" font-size="22.5">6-</tspan><tspan y="1099.5">·Na</tspan><tspan y="1086.9" font-size="22.5">+</tspan><tspan y="1099.5">·H</tspan><tspan y="1086.9" font-size="22.5">+</tspan><tspan y="1099.5">·8H</tspan><tspan y="1104.5" font-size="22.5">2</tspan><tspan y="1099.5">O; 7′-V</tspan><tspan y="1104.5" font-size="22.5">10</tspan><tspan y="1099.5">O</tspan><tspan y="1104.5" font-size="22.5">28</tspan><tspan y="1086.9" font-size="22.5">6-</tspan><tspan y="1099.5">·</tspan></text>
<text x="20.0" y="1145.4" font-size="38" transform="matrix(0.98536 0 0 1 0.293 0)"><tspan y="1145.4">3Na</tspan><tspan y="1132.8" font-size="22.5">+</tspan><tspan y="1145.4">·H</tspan><tspan y="1150.4" font-size="22.5">2</tspan><tspan y="1145.4">O; 8′-V</tspan><tspan y="1150.4" font-size="22.5">10</tspan><tspan y="1145.4">O</tspan><tspan y="1150.4" font-size="22.5">28</tspan><tspan y="1132.8" font-size="22.5">6-</tspan><tspan y="1145.4">·2Na</tspan><tspan y="1132.8" font-size="22.5">+</tspan><tspan y="1145.4">·H</tspan><tspan y="1132.8" font-size="22.5">+</tspan><tspan y="1145.4">·5H</tspan><tspan y="1150.4" font-size="22.5">2</tspan><tspan y="1145.4">O; 1′′-P</tspan><tspan y="1150.4" font-size="22.5">3</tspan><tspan y="1145.4">O</tspan><tspan y="1150.4" font-size="22.5">9</tspan><tspan y="1132.8" font-size="22.5">3-</tspan><tspan y="1145.4">; 2′′-H</tspan><tspan y="1150.4" font-size="22.5">2</tspan><tspan y="1145.4">PO</tspan><tspan y="1150.4" font-size="22.5">4</tspan><tspan y="1132.8" font-size="22.5">-</tspan><tspan y="1145.4">; 3′′-V</tspan><tspan y="1150.4" font-size="22.5">10</tspan><tspan y="1145.4">O</tspan><tspan y="1150.4" font-size="22.5">28</tspan><tspan y="1132.8" font-size="22.5">6-</tspan><tspan y="1145.4">·Na</tspan><tspan y="1132.8" font-size="22.5">+</tspan><tspan y="1145.4">·P</tspan><tspan y="1150.4" font-size="22.5">3</tspan><tspan y="1145.4">O</tspan><tspan y="1150.4" font-size="22.5">10</tspan><tspan y="1132.8" font-size="22.5">5-</tspan><tspan y="1145.4">·5H</tspan><tspan y="1132.8" font-size="22.5">+</tspan><tspan y="1145.4">·2H</tspan><tspan y="1150.4" font-size="22.5">2</tspan><tspan y="1145.4">O; 4′′-</tspan></text>
<text x="20.0" y="1191.2" font-size="38" transform="matrix(0.97699 0 0 1 0.460 0)"><tspan y="1191.2">V</tspan><tspan y="1196.2" font-size="22.5">10</tspan><tspan y="1191.2">O</tspan><tspan y="1196.2" font-size="22.5">28</tspan><tspan y="1178.7" font-size="22.5">6-</tspan><tspan y="1191.2">·Na</tspan><tspan y="1178.7" font-size="22.5">+</tspan><tspan y="1191.2">·P</tspan><tspan y="1196.2" font-size="22.5">3</tspan><tspan y="1191.2">O</tspan><tspan y="1196.2" font-size="22.5">10</tspan><tspan y="1178.7" font-size="22.5">5-</tspan><tspan y="1191.2">·5H</tspan><tspan y="1178.7" font-size="22.5">+</tspan><tspan y="1191.2">·6H</tspan><tspan y="1196.2" font-size="22.5">2</tspan><tspan y="1191.2">O; 5′′-V</tspan><tspan y="1196.2" font-size="22.5">4</tspan><tspan y="1191.2">O</tspan><tspan y="1196.2" font-size="22.5">12</tspan><tspan y="1178.7" font-size="22.5">6-</tspan><tspan y="1191.2">·Na</tspan><tspan y="1178.7" font-size="22.5">+</tspan><tspan y="1191.2">·P</tspan><tspan y="1196.2" font-size="22.5">3</tspan><tspan y="1191.2">O</tspan><tspan y="1196.2" font-size="22.5">10</tspan><tspan y="1178.7" font-size="22.5">5-</tspan><tspan y="1191.2">·6H</tspan><tspan y="1178.7" font-size="22.5">+</tspan><tspan y="1191.2">·3H</tspan><tspan y="1196.2" font-size="22.5">2</tspan><tspan y="1191.2">O; 6′′-V</tspan><tspan y="1196.2" font-size="22.5">10</tspan><tspan y="1191.2">O</tspan><tspan y="1196.2" font-size="22.5">28</tspan><tspan y="1178.7" font-size="22.5">6-</tspan><tspan y="1191.2">·5Na</tspan><tspan y="1178.7" font-size="22.5">+</tspan><tspan y="1191.2">·PO</tspan><tspan y="1196.2" font-size="22.5">4</tspan><tspan y="1178.7" font-size="22.5">3-</tspan><tspan y="1191.2">·2H</tspan><tspan y="1178.7" font-size="22.5">+</tspan><tspan y="1191.2">·8H</tspan><tspan y="1196.2" font-size="22.5">2</tspan><tspan y="1191.2">O;</tspan></text>
<text x="20.0" y="1237.1" font-size="38" transform="matrix(0.98056 0 0 1 0.389 0)"><tspan y="1237.1">7′′-V</tspan><tspan y="1242.1" font-size="22.5">10</tspan><tspan y="1237.1">O</tspan><tspan y="1242.1" font-size="22.5">28</tspan><tspan y="1224.5" font-size="22.5">6-</tspan><tspan y="1237.1">·P</tspan><tspan y="1242.1" font-size="22.5">3</tspan><tspan y="1237.1">O</tspan><tspan y="1242.1" font-size="22.5">10</tspan><tspan y="1224.5" font-size="22.5">5-</tspan><tspan y="1237.1">·8H</tspan><tspan y="1224.5" font-size="22.5">+</tspan><tspan y="1237.1">; 8′′-V</tspan><tspan y="1242.1" font-size="22.5">10</tspan><tspan y="1237.1">O</tspan><tspan y="1242.1" font-size="22.5">28</tspan><tspan y="1224.5" font-size="22.5">6-</tspan><tspan y="1237.1">·Na</tspan><tspan y="1224.5" font-size="22.5">+</tspan><tspan y="1237.1">·P</tspan><tspan y="1242.1" font-size="22.5">3</tspan><tspan y="1237.1">O</tspan><tspan y="1242.1" font-size="22.5">10</tspan><tspan y="1224.5" font-size="22.5">5-</tspan><tspan y="1237.1">·7H</tspan><tspan y="1224.5" font-size="22.5">+</tspan><tspan y="1237.1">·9H</tspan><tspan y="1242.1" font-size="22.5">2</tspan><tspan y="1237.1">O; 9′′-V</tspan><tspan y="1242.1" font-size="22.5">10</tspan><tspan y="1237.1">O</tspan><tspan y="1242.1" font-size="22.5">28</tspan><tspan y="1224.5" font-size="22.5">6-</tspan><tspan y="1237.1">·3Na</tspan><tspan y="1224.5" font-size="22.5">+</tspan><tspan y="1237.1">·P</tspan><tspan y="1242.1" font-size="22.5">3</tspan><tspan y="1237.1">O</tspan><tspan y="1242.1" font-size="22.5">10</tspan><tspan y="1224.5" font-size="22.5">5-</tspan><tspan y="1237.1">·5H</tspan><tspan y="1224.5" font-size="22.5">+</tspan><tspan y="1237.1">·10H</tspan><tspan y="1242.1" font-size="22.5">2</tspan><tspan y="1237.1">O;</tspan></text>
<text x="20.0" y="1283.0" font-size="38" transform="matrix(0.99337 0 0 1 0.133 0)"><tspan y="1283.0">10′′-V</tspan><tspan y="1288.0" font-size="22.5">4</tspan><tspan y="1283.0">O</tspan><tspan y="1288.0" font-size="22.5">12</tspan><tspan y="1270.4" font-size="22.5">6-</tspan><tspan y="1283.0">·2Na</tspan><tspan y="1270.4" font-size="22.5">+</tspan><tspan y="1283.0">·PO</tspan><tspan y="1288.0" font-size="22.5">4</tspan><tspan y="1270.4" font-size="22.5">3-</tspan><tspan y="1283.0">·4H</tspan><tspan y="1270.4" font-size="22.5">+</tspan><tspan y="1283.0">·H</tspan><tspan y="1288.0" font-size="22.5">2</tspan><tspan y="1283.0">O; 1′′′-VO</tspan><tspan y="1288.0" font-size="22.5">3</tspan><tspan y="1270.4" font-size="22.5">-</tspan><tspan y="1283.0">; 2′′′-NaV</tspan><tspan y="1288.0" font-size="22.5">4</tspan><tspan y="1283.0">O</tspan><tspan y="1288.0" font-size="22.5">12</tspan><tspan y="1270.4" font-size="22.5">3-</tspan><tspan y="1283.0">·7H</tspan><tspan y="1288.0" font-size="22.5">2</tspan><tspan y="1283.0">O; 3′′′-HV</tspan><tspan y="1288.0" font-size="22.5">10</tspan><tspan y="1283.0">O</tspan><tspan y="1288.0" font-size="22.5">28</tspan><tspan y="1270.4" font-size="22.5">5-</tspan><tspan y="1283.0">·2H</tspan><tspan y="1288.0" font-size="22.5">2</tspan><tspan y="1283.0">O; 4′′′-Na</tspan><tspan y="1288.0" font-size="22.5">2</tspan><tspan y="1283.0">V</tspan><tspan y="1288.0" font-size="22.5">4</tspan><tspan y="1283.0">O</tspan><tspan y="1288.0" font-size="22.5">12</tspan><tspan y="1270.4" font-size="22.5">3-</tspan><tspan y="1283.0">;</tspan></text>
<text x="20.0" y="1328.9" font-size="38" transform="matrix(1.00092 0 0 1 -0.018 0)"><tspan y="1328.9">5′′′-Na</tspan><tspan y="1333.9" font-size="22.5">2</tspan><tspan y="1328.9">V</tspan><tspan y="1333.9" font-size="22.5">10</tspan><tspan y="1328.9">O</tspan><tspan y="1333.9" font-size="22.5">28</tspan><tspan y="1316.3" font-size="22.5">4-</tspan><tspan y="1328.9">·3H</tspan><tspan y="1333.9" font-size="22.5">2</tspan><tspan y="1328.9">O; 6′′′-H</tspan><tspan y="1333.9" font-size="22.5">2</tspan><tspan y="1328.9">V</tspan><tspan y="1333.9" font-size="22.5">10</tspan><tspan y="1328.9">O</tspan><tspan y="1333.9" font-size="22.5">28</tspan><tspan y="1316.3" font-size="22.5">4-</tspan><tspan y="1328.9">·3H</tspan><tspan y="1333.9" font-size="22.5">2</tspan><tspan y="1328.9">O; 7′′′-NaH</tspan><tspan y="1333.9" font-size="22.5">2</tspan><tspan y="1328.9">V</tspan><tspan y="1333.9" font-size="22.5">10</tspan><tspan y="1328.9">O</tspan><tspan y="1333.9" font-size="22.5">28</tspan><tspan y="1316.3" font-size="22.5">3-</tspan><tspan y="1328.9">·6H</tspan><tspan y="1333.9" font-size="22.5">2</tspan><tspan y="1328.9">O</tspan></text>
</g>
</svg>
</body></html>
